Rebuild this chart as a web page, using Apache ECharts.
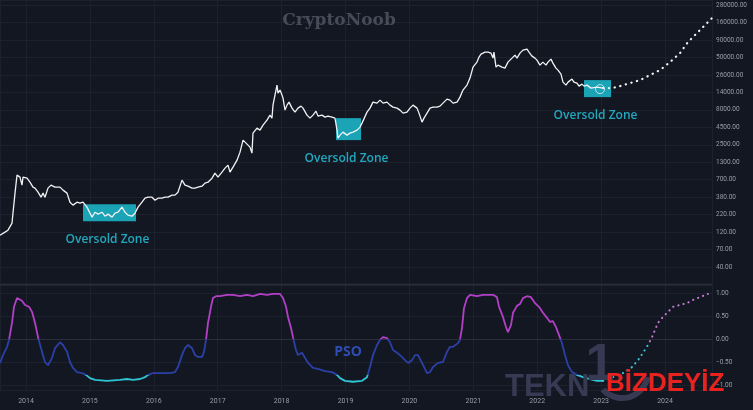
<!DOCTYPE html>
<html><head><meta charset="utf-8">
<script src="https://cdn.jsdelivr.net/npm/echarts@6/dist/echarts.min.js"></script>
<style>html,body{margin:0;padding:0;background:#131722}#c{width:753px;height:410px}</style>
</head><body><div id="c"></div>
<script>
// ---- data ----
const priceYears = [2013.593,2013.671,2013.718,2013.781,2013.796,2013.828,2013.859,2013.875,2013.906,2013.937,
2013.953,2014.016,2014.062,2014.109,2014.141,2014.188,2014.235,2014.266,2014.297,2014.344,
2014.391,2014.454,2014.532,2014.579,2014.642,2014.688,2014.735,2014.798,2014.845,2014.892,
2014.954,2015.001,2015.033,2015.080,2015.127,2015.189,2015.236,2015.283,2015.346,2015.393,
2015.440,2015.502,2015.549,2015.596,2015.659,2015.706,2015.753,2015.815,2015.862,2015.909,
2015.972,2016.019,2016.066,2016.128,2016.175,2016.222,2016.285,2016.332,2016.378,2016.441,
2016.488,2016.535,2016.598,2016.645,2016.691,2016.754,2016.801,2016.848,2016.911,2016.957,
2017.004,2017.067,2017.114,2017.161,2017.192,2017.239,2017.302,2017.349,2017.396,2017.443,
2017.474,2017.505,2017.536,2017.552,2017.615,2017.662,2017.709,2017.771,2017.818,2017.849,
2017.865,2017.896,2017.928,2017.943,2017.975,2018.006,2018.022,2018.053,2018.084,2018.116,
2018.163,2018.209,2018.256,2018.303,2018.335,2018.397,2018.444,2018.491,2018.538,2018.569,
2018.632,2018.679,2018.726,2018.788,2018.835,2018.867,2018.882,2018.914,2018.960,2019.023,
2019.070,2019.117,2019.180,2019.227,2019.258,2019.289,2019.336,2019.383,2019.430,2019.493,
2019.540,2019.587,2019.649,2019.696,2019.743,2019.806,2019.853,2019.900,2019.962,2020.009,
2020.056,2020.119,2020.150,2020.197,2020.228,2020.275,2020.322,2020.369,2020.432,2020.478,
2020.525,2020.588,2020.635,2020.682,2020.745,2020.791,2020.838,2020.901,2020.948,2020.995,
2021.026,2021.057,2021.089,2021.120,2021.151,2021.183,2021.214,2021.230,2021.276,2021.308,
2021.323,2021.355,2021.386,2021.449,2021.495,2021.542,2021.605,2021.652,2021.683,2021.730,
2021.777,2021.840,2021.871,2021.918,2021.965,2021.996,2022.043,2022.090,2022.137,2022.168,
2022.215,2022.246,2022.293,2022.325,2022.372,2022.403,2022.450,2022.482,2022.544,2022.575,
2022.622,2022.654,2022.700,2022.732,2022.779,2022.795,2022.842,2022.873,2022.936,2022.967,
2023.030];
const prices = [117,130,139,176,247,486,893,955,834,637,
834,806,704,595,575,502,424,486,424,575,
637,595,595,538,486,358,324,358,346,358,
303,247,216,255,239,255,223,239,216,247,
255,303,255,231,223,247,303,358,410,424,
424,383,410,410,424,424,454,454,502,754,
637,615,575,575,595,615,681,704,806,955,
834,988,1131,1252,988,1170,1482,1943,2915,2634,
2462,2300,1878,3693,4373,4088,4841,5732,6787,6132,
9517,13350,18720,14280,15810,13350,12060,8037,9517,10530,
8600,7512,8600,9200,8600,6787,6132,6787,7770,6561,
6787,6343,6561,6343,6132,4088,3119,3451,3820,3451,
3693,3820,4088,4524,5179,5179,7512,8600,10530,10180,
11270,10180,10530,9517,8896,8600,8037,7263,7512,8600,
9517,8600,7263,5357,6132,7263,8600,8896,8896,9200,
10180,11660,11270,10180,10530,12470,15810,18720,23710,34400,
33260,40740,48250,53390,55230,57130,55230,57130,55230,46640,
57130,34400,36810,34400,33260,40740,46640,51610,46640,55230,
61130,63230,57130,49910,46640,43590,36810,40740,36810,40740,
45080,39380,33260,31080,27150,20710,18720,20710,22930,20710,
20020,18090,19360,18090,18720,20020,16910,15810,17490,16350,
16910];
const projYears = [2023.030,2023.170,2023.296,2023.452,2023.609,2023.765,2023.921,2024.078,2024.234,2024.359,2024.500,2024.625,2024.735];
const projPrices = [16910,16910,18090,20020,22160,26240,31080,40740,55230,80120,108600,142300,180400];
const lastPoint = [2022.983, 16350];

const psoYears = [2013.593,2013.640,2013.703,2013.734,2013.781,2013.812,2013.859,2013.890,2013.937,2013.984,
2014.047,2014.094,2014.141,2014.188,2014.250,2014.297,2014.344,2014.407,2014.454,2014.532,
2014.579,2014.642,2014.688,2014.735,2014.798,2014.876,2014.939,2015.001,2015.080,2015.267,
2015.471,2015.581,2015.674,2015.784,2015.862,2015.909,2015.987,2016.050,2016.144,2016.253,
2016.332,2016.378,2016.441,2016.488,2016.535,2016.598,2016.645,2016.691,2016.754,2016.785,
2016.817,2016.848,2016.895,2016.926,2016.973,2017.036,2017.145,2017.239,2017.349,2017.458,
2017.552,2017.662,2017.771,2017.865,2017.975,2018.022,2018.069,2018.100,2018.147,2018.178,
2018.225,2018.256,2018.319,2018.366,2018.413,2018.491,2018.569,2018.679,2018.788,2018.867,
2018.914,2018.992,2019.117,2019.258,2019.336,2019.383,2019.430,2019.493,2019.540,2019.587,
2019.649,2019.696,2019.743,2019.806,2019.853,2019.931,2019.978,2020.040,2020.087,2020.134,
2020.197,2020.275,2020.322,2020.369,2020.447,2020.525,2020.588,2020.635,2020.682,2020.760,
2020.791,2020.823,2020.854,2020.901,2020.948,2021.057,2021.151,2021.308,2021.370,2021.402,
2021.464,2021.511,2021.542,2021.589,2021.621,2021.683,2021.730,2021.777,2021.840,2021.902,
2021.965,2022.028,2022.090,2022.153,2022.200,2022.246,2022.293,2022.340,2022.387,2022.434,
2022.482,2022.544,2022.622,2022.716,2022.826,2022.936,2023.030];
const psoValues = [-0.52,-0.35,-0.17,-0.02,0.35,0.70,0.89,0.91,0.83,0.74,
0.70,0.59,0.35,0.04,-0.28,-0.50,-0.57,-0.41,-0.20,-0.07,
-0.13,-0.28,-0.50,-0.63,-0.72,-0.74,-0.78,-0.85,-0.89,-0.91,
-0.89,-0.87,-0.89,-0.87,-0.83,-0.78,-0.74,-0.74,-0.74,-0.74,
-0.72,-0.61,-0.35,-0.20,-0.13,-0.20,-0.35,-0.39,-0.39,-0.28,
-0.02,0.35,0.70,0.89,0.93,0.93,0.96,0.96,0.93,0.96,
0.93,0.98,0.96,0.98,0.98,0.89,0.70,0.48,0.24,0.04,
-0.24,-0.35,-0.30,-0.41,-0.52,-0.63,-0.65,-0.70,-0.72,-0.78,
-0.85,-0.91,-0.93,-0.91,-0.83,-0.61,-0.35,-0.13,-0.02,0.04,
0.02,-0.07,-0.24,-0.30,-0.35,-0.46,-0.52,-0.46,-0.35,-0.35,
-0.52,-0.74,-0.72,-0.61,-0.52,-0.50,-0.28,-0.17,-0.17,-0.09,
-0.02,0.24,0.67,0.89,0.96,0.93,0.96,0.96,0.91,0.70,
0.48,0.26,0.15,0.30,0.57,0.72,0.76,0.89,0.93,0.91,
0.78,0.70,0.57,0.46,0.37,0.39,0.26,0.09,-0.09,-0.35,
-0.57,-0.72,-0.78,-0.83,-0.87,-0.91,-0.91];
const psoProjYears = [2023.030,2023.186,2023.343,2023.484,2023.577,2023.656,2023.734,2023.796,2023.843,2023.890,2023.968,2024.047,2024.125,2024.234,2024.344,2024.438,2024.547,2024.672];
const psoProjValues = [-0.91,-0.83,-0.74,-0.61,-0.46,-0.30,-0.13,0.04,0.20,0.35,0.48,0.59,0.70,0.74,0.78,0.85,0.91,0.98];

const priceTicks = [40,70,120,220,380,700,1300,2500,4500,8000,14000,26000,50000,90000,160000,280000];
const psoTicks = [-1,-0.5,0,0.5,1];
const zoneStart = [2014.892, 2018.851, 2022.732];
const zoneEnd = [2015.721, 2019.243, 2023.155];
const zoneLow = [188, 2917, 12470];
const zoneHigh = [335, 6135, 22180];
const zoneLabel = 'Oversold Zone';

// ---- chart ----
const XMIN = 2013.593, XMAX = 2024.735;
const STEP = (Math.log10(priceTicks[priceTicks.length-1]) - Math.log10(priceTicks[0])) / (priceTicks.length - 1);
const YMIN = Math.log10(priceTicks[0]) - STEP;
const YMAX = Math.log10(priceTicks[priceTicks.length-1]) + 0.29 * STEP;
const FONT = 'Roboto, "Liberation Sans", sans-serif';
const gridColor = '#1d212d';
const labelColor = '#9a9da6';

const L = v => Math.log10(v);
const chart = echarts.init(document.getElementById('c'), null, {renderer: 'canvas'});

chart.setOption({
  animation: false,
  backgroundColor: '#131722',
  grid: [
    {left: 0, right: 41, top: 0, height: 284.5},
    {left: 0, right: 41, top: 285, height: 105}
  ],
  xAxis: [
    {type: 'value', gridIndex: 0, min: XMIN, max: XMAX, splitNumber: 11, minInterval: 1, maxInterval: 1,
     axisLine: {show: false}, axisTick: {show: false}, axisLabel: {show: false},
     splitLine: {show: true, lineStyle: {color: gridColor, width: 1}}},
    {type: 'value', gridIndex: 1, min: XMIN, max: XMAX, splitNumber: 11, minInterval: 1, maxInterval: 1,
     axisLine: {show: true, lineStyle: {color: '#2a2e39'}}, axisTick: {show: false},
     axisLabel: {show: true, color: labelColor, fontSize: 7, fontFamily: FONT, margin: 8,
                 showMinLabel: false, showMaxLabel: false, formatter: v => String(v)},
     splitLine: {show: true, lineStyle: {color: gridColor, width: 1}}}
  ],
  yAxis: [
    {type: 'value', gridIndex: 0, position: 'right', min: YMIN, max: YMAX, interval: STEP,
     axisLine: {show: false}, axisTick: {show: false},
     axisLabel: {show: true, color: labelColor, fontSize: 6.5, fontFamily: FONT, margin: 4,
       showMinLabel: false, showMaxLabel: false,
       formatter: v => {
         const i = Math.round((v - YMIN) / STEP) - 1;
         if (i < 0 || i >= priceTicks.length) return '';
         if (Math.abs(v - (YMIN + (i + 1) * STEP)) > 0.02) return '';
         return priceTicks[i].toFixed(2);
       }},
     splitLine: {show: true, lineStyle: {color: gridColor, width: 1}}},
    {type: 'value', gridIndex: 1, position: 'right', min: -1.109, max: 1.174, splitNumber: 5, minInterval: 0.5, maxInterval: 0.5,
     axisLine: {show: false}, axisTick: {show: false},
     axisLabel: {show: true, color: labelColor, fontSize: 6.5, fontFamily: FONT, margin: 4,
       showMinLabel: false, showMaxLabel: false,
       formatter: v => psoTicks.some(t => Math.abs(t - v) < 1e-6) ? (v < 0 ? '\u2212' : '') + Math.abs(v).toFixed(2) : ''},
     splitLine: {show: true, lineStyle: {color: gridColor, width: 1}}}
  ],
  visualMap: [
    {type: 'piecewise', show: false, seriesIndex: 4, dimension: 1,
     pieces: [{lt: -0.78, color: '#2fc4d4'}, {gte: -0.78, lt: 0, color: '#2b40a6'}, {gte: 0, color: '#b23fc6'}]},
    {type: 'piecewise', show: false, seriesIndex: 5, dimension: 1,
     pieces: [{lt: -0.1, color: '#3ac6d6'}, {gte: -0.1, lt: 0.5, color: '#c27ad4'}, {gte: 0.5, color: '#c27ad4'}]}
  ],
  series: [
    {type: 'custom', xAxisIndex: 0, yAxisIndex: 0, z: 1, silent: true,
     encode: {x: [0, 2], y: [1, 3]},
     data: zoneStart.map((s, i) => [s, L(zoneHigh[i]), zoneEnd[i], L(zoneLow[i])]),
     renderItem: (params, api) => {
       const p1 = api.coord([api.value(0), api.value(1)]);
       const p2 = api.coord([api.value(2), api.value(3)]);
       return {type: 'group', children: [
         {type: 'rect', shape: {x: p1[0], y: p1[1], width: p2[0] - p1[0], height: p2[1] - p1[1]}, style: {fill: '#1ba3b6'}},
         {type: 'text', x: (p1[0] + p2[0]) / 2 - 2, y: p2[1] + 18,
          style: {text: zoneLabel, fill: '#22a8bc', font: '600 12px "Open Sans", sans-serif', align: 'center', verticalAlign: 'middle'}}
       ]};
     }},
    {type: 'line', xAxisIndex: 0, yAxisIndex: 0, z: 3, symbol: 'none',
     data: priceYears.map((y, i) => [y, L(prices[i])]),
     lineStyle: {color: '#f2f2f4', width: 1.3}},
    {type: 'line', xAxisIndex: 0, yAxisIndex: 0, z: 3, symbol: 'none',
     data: projYears.map((y, i) => [y, L(projPrices[i])]),
     lineStyle: {color: '#f2f2f4', width: 2.2, type: [0.3, 5.5], cap: 'round'}},
    {type: 'scatter', xAxisIndex: 0, yAxisIndex: 0, z: 4, silent: true,
     data: [[lastPoint[0], L(lastPoint[1])]], symbol: 'circle', symbolSize: 9,
     itemStyle: {color: 'rgba(0,0,0,0)', borderColor: '#dff3f6', borderWidth: 1}},
    {type: 'line', xAxisIndex: 1, yAxisIndex: 1, symbol: 'none',
     data: psoYears.map((y, i) => [y, psoValues[i]]),
     lineStyle: {width: 1.8}},
    {type: 'line', xAxisIndex: 1, yAxisIndex: 1, symbol: 'none',
     data: psoProjYears.map((y, i) => [y, psoProjValues[i]]),
     lineStyle: {width: 2, type: [0.3, 5], cap: 'round'}}
  ],
  graphic: [
    {type: 'line', z: 50, shape: {x1: 0, y1: 284.5, x2: 712, y2: 284.5}, style: {stroke: '#2a2e39', lineWidth: 1.5}},
    {type: 'text', z: 50, x: 339, y: 21, style: {text: 'CryptoNoob', fill: '#474b58', font: 'bold 17px "DejaVu Serif", serif', align: 'center', verticalAlign: 'middle'}},
    {type: 'text', z: 50, x: 348, y: 352, style: {text: 'PSO', fill: '#2d4db3', font: 'bold 14px "Open Sans", sans-serif', align: 'center', verticalAlign: 'middle'}},
    {type: 'text', z: 100, x: 505, y: 387, style: {text: 'TEKN', fill: '#363b53', font: 'bold 31px "Liberation Sans", sans-serif', align: 'left', verticalAlign: 'middle'}},
    {type: 'arc', z: 100, shape: {cx: 622, cy: 372, r: 26, startAngle: 0.2, endAngle: 2.4, clockwise: true}, style: {stroke: '#363b53', lineWidth: 6, fill: null}},
    {type: 'text', z: 100, x: 600, y: 366, style: {text: '1', fill: '#363b53', font: 'bold 52px "Liberation Sans", sans-serif', align: 'center', verticalAlign: 'middle'}},
    {type: 'text', z: 101, x: 606, y: 384, style: {text: 'BİZDEYİZ', fill: '#e8231f', font: 'bold 26px "Liberation Sans", sans-serif', align: 'left', verticalAlign: 'middle'}}
  ]
});
</script></body></html>
